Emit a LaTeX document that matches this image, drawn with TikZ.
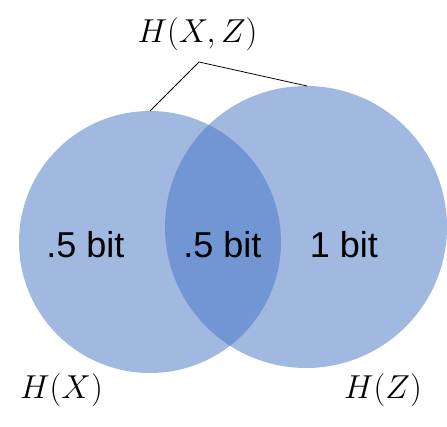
\documentclass[tikz,border=0pt]{standalone}
\usepackage[no-math]{fontspec}
\setmainfont{Liberation Sans}
\definecolor{vennblue}{HTML}{4472C4}
\begin{document}
\begin{tikzpicture}[x=1pt,y=-1pt,
  circ/.style={fill=vennblue,fill opacity=0.5,draw=none},
  bitlabel/.style={anchor=base,inner sep=0pt,font=\fontsize{36}{40}\selectfont},
  setlabel/.style={anchor=base,inner sep=0pt,font=\huge,scale=1.6},
  brace/.style={draw=black,line width=0.8pt}]
\useasboundingbox (0,0) rectangle (447,427);
\fill[circ] (150,242) circle[radius=131];
\fill[circ] (306,227) circle[radius=141];
\node[bitlabel] (a) at (85.5,258) {.5 bit};
\node[bitlabel] (b) at (222.5,258) {.5 bit};
\node[bitlabel] (c) at (344,258) {1 bit};
\node[setlabel] (hxz) at (197.5,43) {$H(X,Z)$};
\node[setlabel] (hx) at (61.5,399) {$H(X)$};
\node[setlabel] (hz) at (383,399) {$H(Z)$};
\coordinate (lt) at (150,111);
\coordinate (apex) at (199,62);
\coordinate (rt) at (307,86);
\draw[brace] (lt) -- (apex) -- (rt);
\end{tikzpicture}
\end{document}
